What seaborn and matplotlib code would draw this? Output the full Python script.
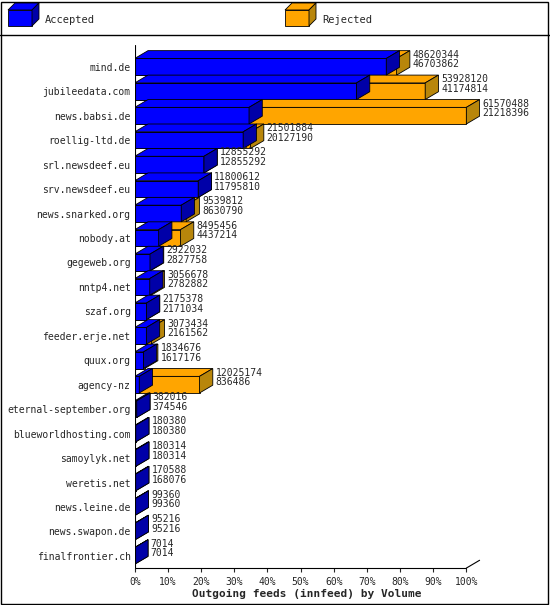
import matplotlib
matplotlib.use("Agg")
import matplotlib.pyplot as plt
import seaborn as sns
import pandas as pd
from matplotlib.patches import Polygon, Rectangle
from matplotlib.lines import Line2D

hosts = ["mind.de", "jubileedata.com", "news.babsi.de", "roellig-ltd.de", "srl.newsdeef.eu",
         "srv.newsdeef.eu", "news.snarked.org", "nobody.at", "gegeweb.org", "nntp4.net",
         "szaf.org", "feeder.erje.net", "quux.org", "agency-nz", "eternal-september.org",
         "blueworldhosting.com", "samoylyk.net", "weretis.net", "news.leine.de",
         "news.swapon.de", "finalfrontier.ch"]
offered = [48620344, 53928120, 61570488, 21501884, 12855292, 11800612, 9539812, 8495456,
           2922032, 3056678, 2175378, 3073434, 1834676, 12025174, 382016, 180380, 180314,
           170588, 99360, 95216, 7014]
accepted = [46703862, 41174814, 21218396, 20127190, 12855292, 11795810, 8630790, 4437214,
            2827758, 2782882, 2171034, 2161562, 1617176, 836486, 374546, 180380, 180314,
            168076, 99360, 95216, 7014]

mx = max(offered)
df = pd.DataFrame({"host": hosts,
                   "tot": [o / mx * 100 for o in offered],
                   "acc": [a / mx * 100 for a in accepted]})

sns.set_style("white")
plt.rcParams["font.family"] = ["DejaVu Sans Mono"]
fig = plt.figure(figsize=(5.5, 6.05), dpi=100)
ax = fig.add_axes([0.245, 0.061, 0.627, 0.865])

BLUE, BLUE_D = "#0000ff", "#0000a8"
ORNG, ORNG_D = "#ffa500", "#b8860b"
h = 0.68
sns.barplot(data=df, y="host", x="tot", color=ORNG, width=h, ax=ax,
            edgecolor="black", linewidth=0.6, saturation=1, zorder=2)
sns.barplot(data=df, y="host", x="acc", color=BLUE, width=h, ax=ax,
            edgecolor="black", linewidth=0.6, saturation=1, zorder=3)
dx, dy = 4.0, 0.32

def box3d(x0, x1, y, front, side, z):
    t = y - h / 2
    b = y + h / 2
    ax.add_patch(Polygon([(x0, t), (x1, t), (x1 + dx, t - dy), (x0 + dx, t - dy)],
                         closed=True, fc=front, ec="black", lw=0.6, zorder=z))
    ax.add_patch(Polygon([(x1, t), (x1, b), (x1 + dx, b - dy), (x1 + dx, t - dy)],
                         closed=True, fc=side, ec="black", lw=0.6, zorder=z))

for i, r in df.iterrows():
    box3d(r.acc, r.tot, i, ORNG, ORNG_D, 4)
    box3d(0, r.acc, i, BLUE, BLUE_D, 5)
    ax.text(r.tot + dx + 0.8, i - 0.3, f"{offered[i]}\n{accepted[i]}",
            fontsize=7, va="center", ha="left", linespacing=0.95, zorder=6)

ax.set_xlim(0, 100 + dx)
ax.set_ylim(len(hosts) - 0.5, -0.9)
ticks = list(range(0, 101, 10))
ax.set_xticks(ticks)
ax.set_xticklabels([f"{t}%" for t in ticks], fontsize=7)
ax.tick_params(axis="y", labelsize=7, length=0, pad=3)
ax.tick_params(axis="x", length=3, bottom=True)
ax.set_ylabel("")
ax.set_xlabel("Outgoing feeds (innfeed) by Volume", fontsize=8, fontweight="bold", labelpad=1)
for s in ax.spines.values():
    s.set_visible(False)
ax.axvline(0, color="black", lw=0.8, zorder=6)
ax.plot([0, 100], [len(hosts) - 0.5] * 2, color="black", lw=0.8, clip_on=False)
ax.plot([100, 100 + dx], [len(hosts) - 0.5, len(hosts) - 0.5 - dy], color="black", lw=0.8, clip_on=False)

fig.patches.append(Rectangle((0.002, 0.002), 0.995, 0.995, transform=fig.transFigure,
                             fill=False, ec="black", lw=1))
fig.lines.append(Line2D([0, 1], [1 - 35 / 605] * 2, transform=fig.transFigure, color="black", lw=1))

def leg3d(px, col, dcol, label):
    W, H = 550, 605
    x0, y0, w, hh, d = px, 10, 24, 16, 7
    def P(x, y):
        return (x / W, 1 - y / H)
    fig.patches.append(Polygon([P(x0, y0), P(x0 + w, y0), P(x0 + w, y0 + hh), P(x0, y0 + hh)],
                               transform=fig.transFigure, fc=col, ec="black", lw=0.6))
    fig.patches.append(Polygon([P(x0, y0), P(x0 + d, y0 - d), P(x0 + w + d, y0 - d), P(x0 + w, y0)],
                               transform=fig.transFigure, fc=col, ec="black", lw=0.6))
    fig.patches.append(Polygon([P(x0 + w, y0), P(x0 + w + d, y0 - d), P(x0 + w + d, y0 + hh - d), P(x0 + w, y0 + hh)],
                               transform=fig.transFigure, fc=dcol, ec="black", lw=0.6))
    fig.text((x0 + w + d + 6) / W, 1 - 20 / H, label, fontsize=7.5, va="center")

leg3d(8, BLUE, BLUE_D, "Accepted")
leg3d(285, ORNG, ORNG_D, "Rejected")

fig.savefig("out.png", dpi=100, facecolor="white")
